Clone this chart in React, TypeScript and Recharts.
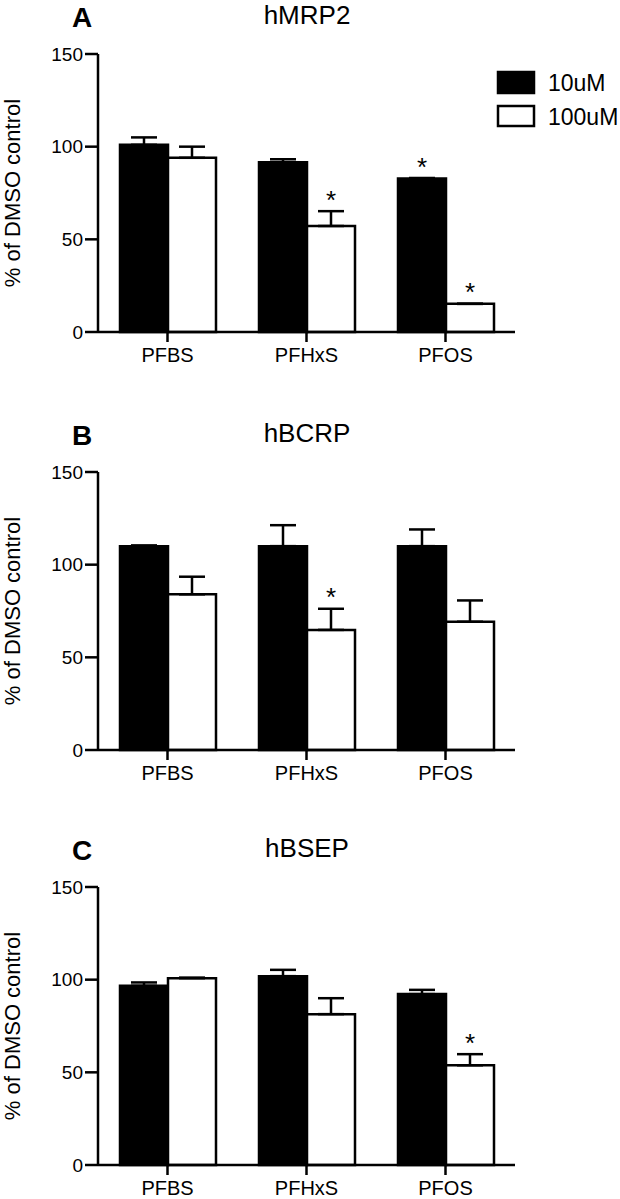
import React from 'react';
import { BarChart, Bar, XAxis, YAxis, ErrorBar, LabelList } from 'recharts';

const categories = ['PFBS', 'PFHxS', 'PFOS'];
const yTicks = [0, 50, 100, 150];
const seriesNames = ['10uM', '100uM'];

// Panel A: hMRP2
const mrp2Low = [101, 91.6, 82.8];
const mrp2LowErr = [4, 1.6, 0.3];
const mrp2High = [94, 57.2, 15.2];
const mrp2HighErr = [6, 8, 0];
const mrp2LowStar = ['', '', '*'];
const mrp2HighStar = ['', '*', '*'];

// Panel B: hBCRP
const bcrpLow = [110, 110, 110];
const bcrpLowErr = [0.4, 11.3, 9];
const bcrpHigh = [84, 64.8, 69.2];
const bcrpHighErr = [9.5, 11.4, 11.5];
const bcrpLowStar = ['', '', ''];
const bcrpHighStar = ['', '*', ''];

// Panel C: hBSEP
const bsepLow = [96.7, 101.9, 92.2];
const bsepLowErr = [1.8, 3.4, 2.3];
const bsepHigh = [100.8, 81.4, 53.8];
const bsepHighErr = [0.3, 8.6, 6];
const bsepLowStar = ['', '', ''];
const bsepHighStar = ['', '', '*'];

const FONT = '"Liberation Sans", Arial, sans-serif';
const SW = 2.5;

function buildData(low: number[], lowErr: number[], high: number[], highErr: number[], lowStar: string[], highStar: string[]) {
  return categories.map((c, i) => ({
    cat: c,
    low: low[i],
    lowErr: [0, lowErr[i]],
    high: high[i],
    highErr: [0, highErr[i]],
    lowStar: lowStar[i],
    highStar: highStar[i],
  }));
}

const makeStar = (values: number[], errs: number[]) => (props: any) => {
  const { x, y, width, height, value, index } = props;
  if (!value) return null;
  const v = values[index];
  const pxPerUnit = v ? Math.abs(height) / v : 0;
  const top = y - errs[index] * pxPerUnit;
  const cy = top - 17.5;
  const fs = 26;
  return (
    <text x={x + width / 2} y={cy + fs * 0.58} textAnchor="middle" fontSize={fs} fontFamily={FONT} fill="#000">
      {value}
    </text>
  );
};

type PanelProps = {
  top: number;
  letter: string;
  title: string;
  low: number[]; lowErr: number[]; high: number[]; highErr: number[];
  lowStar: string[]; highStar: string[];
  legend?: boolean;
};

function Panel(p: PanelProps) {
  const data = buildData(p.low, p.lowErr, p.high, p.highErr, p.lowStar, p.highStar);
  return (
    <div style={{ position: 'absolute', left: 0, top: p.top }}>
      <BarChart
        width={620}
        height={380}
        data={data}
        margin={{ top: 54, right: 105, left: 0, bottom: 8 }}
        barCategoryGap={22}
        barGap={0}
      >
        <XAxis
          dataKey="cat"
          height={40}
          tickSize={10}
          tickMargin={6}
          axisLine={{ stroke: '#000', strokeWidth: SW }}
          tickLine={{ stroke: '#000', strokeWidth: SW }}
          tick={{ fill: '#000', fontSize: 20, fontFamily: FONT }}
        />
        <YAxis
          width={98}
          domain={[0, 150]}
          ticks={yTicks}
          interval={0}
          tickSize={13}
          tickMargin={2}
          axisLine={{ stroke: '#000', strokeWidth: SW }}
          tickLine={{ stroke: '#000', strokeWidth: SW }}
          tick={{ fill: '#000', fontSize: 19, fontFamily: FONT }}
          label={{
            value: '% of DMSO control',
            angle: -90,
            position: 'insideLeft',
            offset: 12,
            style: { textAnchor: 'middle', fontSize: 22, fontFamily: FONT, fill: '#000' },
          }}
        />
        <Bar dataKey="low" name={seriesNames[0]} fill="#000" stroke="#000" strokeWidth={SW} isAnimationActive={false}>
          <ErrorBar dataKey="lowErr" direction="y" width={13} stroke="#000" strokeWidth={SW} />
          <LabelList dataKey="lowStar" content={makeStar(p.low, p.lowErr)} />
        </Bar>
        <Bar dataKey="high" name={seriesNames[1]} fill="#fff" stroke="#000" strokeWidth={SW} isAnimationActive={false}>
          <ErrorBar dataKey="highErr" direction="y" width={13} stroke="#000" strokeWidth={SW} />
          <LabelList dataKey="highStar" content={makeStar(p.high, p.highErr)} />
        </Bar>
        <text x={72} y={27} fontSize={28} fontWeight="bold" fontFamily={FONT} fill="#000">{p.letter}</text>
        <text x={307} y={24} fontSize={26} textAnchor="middle" fontFamily={FONT} fill="#000">{p.title}</text>
        {p.legend ? (
          <g>
            <rect x={498} y={72} width={36} height={21} fill="#000" stroke="#000" strokeWidth={SW} />
            <rect x={498} y={106} width={36} height={20} fill="#fff" stroke="#000" strokeWidth={SW} />
            <text x={548} y={91} fontSize={23} fontFamily={FONT} fill="#000">{seriesNames[0]}</text>
            <text x={548} y={125} fontSize={23} fontFamily={FONT} fill="#000">{seriesNames[1]}</text>
          </g>
        ) : null}
      </BarChart>
    </div>
  );
}

export default function App() {
  return (
    <div style={{ position: 'absolute', left: 0, top: 0, width: 620, height: 1199, background: '#fff' }}>
      <Panel top={0} letter="A" title="hMRP2" low={mrp2Low} lowErr={mrp2LowErr} high={mrp2High} highErr={mrp2HighErr} lowStar={mrp2LowStar} highStar={mrp2HighStar} legend />
      <Panel top={418} letter="B" title="hBCRP" low={bcrpLow} lowErr={bcrpLowErr} high={bcrpHigh} highErr={bcrpHighErr} lowStar={bcrpLowStar} highStar={bcrpHighStar} />
      <Panel top={833} letter="C" title="hBSEP" low={bsepLow} lowErr={bsepLowErr} high={bsepHigh} highErr={bsepHighErr} lowStar={bsepLowStar} highStar={bsepHighStar} />
    </div>
  );
}
